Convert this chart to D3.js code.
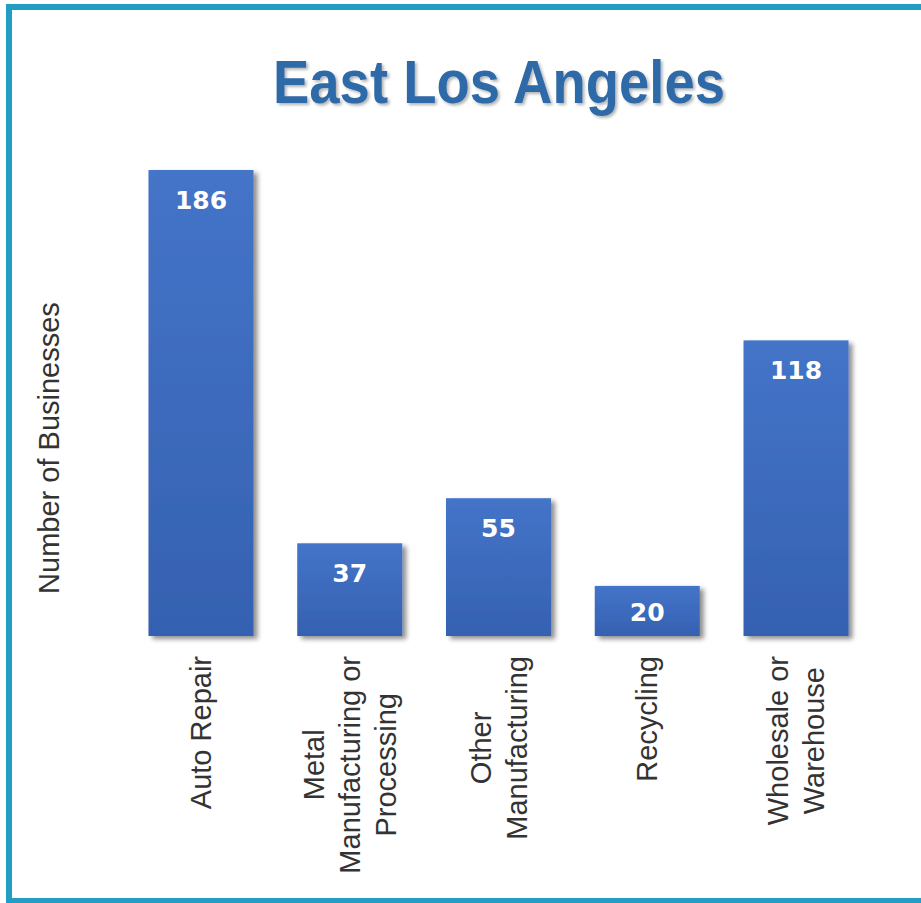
<!DOCTYPE html>
<html>
<head>
<meta charset="utf-8">
<script src="https://cdn.jsdelivr.net/npm/d3@7/dist/d3.min.js"></script>
<style>
  html, body { margin: 0; padding: 0; background: #fff; }
  svg { display: block; }
</style>
</head>
<body>
<svg id="chart" width="921" height="903"></svg>
<script>
// ---- data ----
const title = "East Los Angeles";
const yAxisLabel = "Number of Businesses";
const categories = ["Auto Repair", "Metal Manufacturing or Processing", "Other Manufacturing", "Recycling", "Wholesale or Warehouse"];
const categoryLines = [["Auto Repair"], ["Metal", "Manufacturing or", "Processing"], ["Other", "Manufacturing"], ["Recycling"], ["Wholesale or", "Warehouse"]];
const values = [186, 37, 55, 20, 118];

// ---- layout ----
const W = 921, H = 903;
const svg = d3.select("#chart");

const defs = svg.append("defs");
const grad = defs.append("linearGradient").attr("id", "barGrad")
  .attr("x1", 0).attr("y1", 0).attr("x2", 0).attr("y2", 1);
grad.append("stop").attr("offset", "0%").attr("stop-color", "#4474c8");
grad.append("stop").attr("offset", "100%").attr("stop-color", "#3561b1");

const shadow = defs.append("filter").attr("id", "barShadow")
  .attr("x", "-20%").attr("y", "-20%").attr("width", "150%").attr("height", "150%");
shadow.append("feGaussianBlur").attr("in", "SourceAlpha").attr("stdDeviation", 2.5).attr("result", "b");
shadow.append("feOffset").attr("in", "b").attr("dx", 4).attr("dy", 3).attr("result", "o");
shadow.append("feComponentTransfer").attr("in", "o").attr("result", "s")
  .append("feFuncA").attr("type", "linear").attr("slope", 0.45);
const m1 = shadow.append("feMerge");
m1.append("feMergeNode").attr("in", "s");
m1.append("feMergeNode").attr("in", "SourceGraphic");

const tShadow = defs.append("filter").attr("id", "titleShadow")
  .attr("x", "-10%").attr("y", "-30%").attr("width", "120%").attr("height", "160%");
tShadow.append("feGaussianBlur").attr("in", "SourceAlpha").attr("stdDeviation", 1.5).attr("result", "b");
tShadow.append("feOffset").attr("in", "b").attr("dx", 1.5).attr("dy", 1.5).attr("result", "o");
tShadow.append("feComponentTransfer").attr("in", "o").attr("result", "s")
  .append("feFuncA").attr("type", "linear").attr("slope", 0.3);
const m2 = tShadow.append("feMerge");
m2.append("feMergeNode").attr("in", "s");
m2.append("feMergeNode").attr("in", "SourceGraphic");

// frame
svg.append("rect")
  .attr("x", 9).attr("y", 7).attr("width", 960).attr("height", 894)
  .attr("fill", "#fff").attr("stroke", "#229ec5").attr("stroke-width", 6);

// scales
const x = d3.scaleBand().domain(categories).range([126.6, 870.4])
  .paddingInner(0.294).paddingOuter(0.147);
const y = d3.scaleLinear().domain([0, 186]).range([636, 170]);

// title
svg.append("text")
  .attr("x", 499).attr("y", 103)
  .attr("text-anchor", "middle")
  .attr("font-family", "Liberation Sans, Arial, sans-serif")
  .attr("font-weight", "bold")
  .attr("font-size", 61)
  .attr("textLength", 452).attr("lengthAdjust", "spacingAndGlyphs")
  .attr("fill", "#2f6aa8")
  .attr("filter", "url(#titleShadow)")
  .text(title);

// bars
const data = categories.map((c, i) => ({ c, v: values[i], lines: categoryLines[i] }));
svg.append("g").selectAll("rect").data(data).join("rect")
  .attr("x", d => x(d.c))
  .attr("y", d => y(d.v))
  .attr("width", x.bandwidth())
  .attr("height", d => y(0) - y(d.v))
  .attr("fill", "url(#barGrad)")
  .attr("filter", "url(#barShadow)");

// value labels
svg.append("g").selectAll("text").data(data).join("text")
  .attr("x", d => x(d.c) + x.bandwidth() / 2)
  .attr("y", d => Math.min(y(d.v) + 39, y(0) - 15))
  .attr("text-anchor", "middle")
  .attr("font-family", "DejaVu Sans, Verdana, sans-serif")
  .attr("font-weight", "bold")
  .attr("font-size", 25)
  .attr("fill", "#fff")
  .text(d => d.v);

// x axis (no line, no ticks) used for tick positions
const xAxis = svg.append("g").attr("transform", `translate(0,${y(0)})`)
  .call(d3.axisBottom(x).tickSize(0).tickFormat(""));
xAxis.select(".domain").remove();

// category labels, rotated, multi-line
const labelFont = 29, lineH = 36, capHalf = 10, topY = 656;
const lg = svg.append("g")
  .attr("font-family", "Liberation Sans, Arial, sans-serif")
  .attr("font-size", labelFont)
  .attr("fill", "#333");
data.forEach(d => {
  const cx = x(d.c) + x.bandwidth() / 2;
  const n = d.lines.length;
  const tmp = d.lines.map(t => {
    const el = lg.append("text").attr("text-anchor", "middle").text(t);
    return el;
  });
  const maxLen = d3.max(tmp, el => el.node().getComputedTextLength());
  const cy = topY + maxLen / 2;
  tmp.forEach((el, i) => {
    const bx = cx + capHalf + (i - (n - 1) / 2) * lineH;
    el.attr("transform", `translate(${bx},${cy}) rotate(-90)`);
  });
});

// y axis title
svg.append("text")
  .attr("transform", "translate(59,448) rotate(-90)")
  .attr("text-anchor", "middle")
  .attr("font-family", "Liberation Sans, Arial, sans-serif")
  .attr("font-size", 29)
  .attr("fill", "#333")
  .text(yAxisLabel);
</script>
</body>
</html>
